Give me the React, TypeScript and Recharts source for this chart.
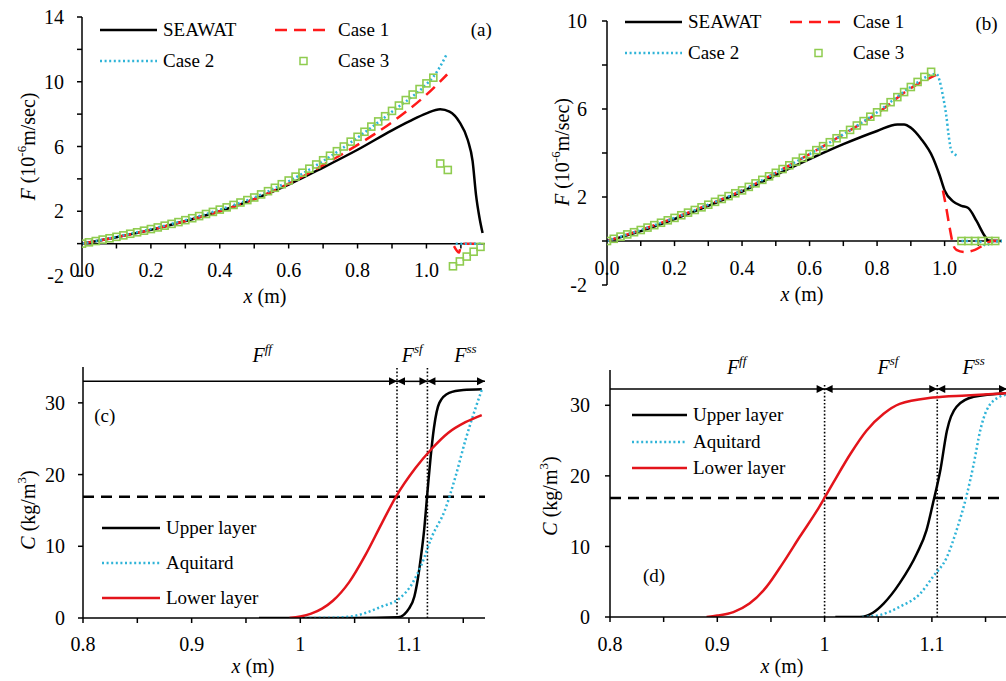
import React from 'react';
import {
  ComposedChart,
  Line,
  Scatter,
  XAxis,
  YAxis,
  ReferenceLine,
  ReferenceDot,
  Legend,
  Label,
} from 'recharts';

const SERIF = 'Liberation Serif, Tinos, DejaVu Serif, serif';
const BLACK = '#000000';
const RED = '#ff1a1a';
const CYAN = '#2fb4d8';
const GREEN = '#8fcc4f';
const LOWER_RED = '#e3141b';

// ---------- panel (a) ----------
const aSeawatX = [0, 0.1, 0.2, 0.3, 0.4, 0.5, 0.6, 0.7, 0.8, 0.9, 0.95, 1.0, 1.04, 1.067, 1.096, 1.12, 1.134, 1.144, 1.154, 1.163];
const aSeawatY = [0, 0.4, 0.85, 1.4, 2.0, 2.75, 3.65, 4.7, 5.8, 7.0, 7.55, 8.05, 8.3, 8.15, 7.5, 6.4, 5.1, 3.0, 1.6, 0.65];

const aCase1X = [0, 0.1, 0.2, 0.3, 0.4, 0.5, 0.6, 0.7, 0.8, 0.9, 1.0, 1.06, 1.07, 1.08, 1.095, 1.1, 1.11, 1.16];
const aCase1Y = [0, 0.4, 0.85, 1.4, 2.0, 2.75, 3.7, 4.85, 6.1, 7.5, 9.2, 10.45, null, -0.15, -0.55, -0.1, 0, 0];

const aCase2X = [0, 0.1, 0.2, 0.3, 0.4, 0.5, 0.6, 0.7, 0.8, 0.9, 1.0, 1.02, 1.04, 1.06, 1.07, 1.085, 1.16];
const aCase2Y = [0, 0.42, 0.9, 1.45, 2.1, 2.85, 3.85, 5.1, 6.55, 8.15, 9.85, 10.3, 10.95, 11.75, null, 0, 0];

const aCase3X = [
  0, 0.02, 0.04, 0.06, 0.08, 0.1, 0.12, 0.14, 0.16, 0.18, 0.2, 0.22, 0.24, 0.26, 0.28, 0.3, 0.32, 0.34,
  0.36, 0.38, 0.4, 0.42, 0.44, 0.46, 0.48, 0.5, 0.52, 0.54, 0.56, 0.58, 0.6, 0.62, 0.64, 0.66, 0.68,
  0.7, 0.72, 0.74, 0.76, 0.78, 0.8, 0.82, 0.84, 0.86, 0.88, 0.9, 0.92, 0.94, 0.96, 0.98, 1.0, 1.02,
  1.04, 1.062, 1.077, 1.097, 1.117, 1.137, 1.157,
];
const aCase3Y = [
  0, 0.08, 0.16, 0.25, 0.33, 0.42, 0.51, 0.61, 0.7, 0.8, 0.9, 1.0, 1.11, 1.22, 1.33, 1.45, 1.57, 1.7,
  1.83, 1.96, 2.1, 2.24, 2.39, 2.54, 2.69, 2.85, 3.04, 3.24, 3.45, 3.67, 3.9, 4.14, 4.38, 4.63, 4.89,
  5.15, 5.43, 5.71, 6.0, 6.3, 6.6, 6.91, 7.23, 7.55, 7.87, 8.2, 8.53, 8.87, 9.21, 9.55, 9.9, 10.25,
  4.95, 4.55, -1.4, -1.1, -0.8, -0.5, -0.2,
];

// ---------- panel (b) ----------
const bSeawatX = [0, 0.1, 0.2, 0.3, 0.4, 0.5, 0.6, 0.7, 0.8, 0.86, 0.88, 0.9, 0.93, 0.965, 0.985, 1.0, 1.025, 1.05, 1.07, 1.095, 1.118, 1.13, 1.17];
const bSeawatY = [0, 0.45, 1.0, 1.6, 2.25, 3.0, 3.72, 4.4, 5.0, 5.3, 5.3, 5.15, 4.65, 3.8, 3.0, 2.3, 1.8, 1.6, 1.5, 0.9, 0.25, 0.02, 0];

const bCase1X = [0, 0.1, 0.2, 0.3, 0.4, 0.5, 0.6, 0.7, 0.8, 0.9, 0.975, 0.985, 0.995, 1.005, 1.015, 1.025, 1.035, 1.06, 1.09, 1.12, 1.14, 1.17];
const bCase1Y = [0, 0.5, 1.05, 1.65, 2.3, 3.1, 3.95, 4.85, 5.8, 6.95, 7.55, null, 2.3, 1.5, 0.6, -0.15, -0.4, -0.5, -0.4, -0.15, 0, 0];

const bCase2X = [0, 0.1, 0.2, 0.3, 0.4, 0.5, 0.6, 0.7, 0.8, 0.9, 0.975, 0.985, 0.995, 1.005, 1.012, 1.02, 1.03, 1.04, 1.045, 1.05, 1.1, 1.123, 1.14, 1.17];
const bCase2Y = [0, 0.5, 1.05, 1.65, 2.3, 3.1, 3.95, 4.85, 5.85, 7.0, 7.6, 7.3, 6.6, 5.7, 4.8, 4.1, 3.95, 3.85, null, 0, 0, -0.2, -0.05, 0];

const bCase3X = [
  0, 0.02, 0.04, 0.06, 0.08, 0.1, 0.12, 0.14, 0.16, 0.18, 0.2, 0.22, 0.24, 0.26, 0.28, 0.3, 0.32, 0.34,
  0.36, 0.38, 0.4, 0.42, 0.44, 0.46, 0.48, 0.5, 0.52, 0.54, 0.56, 0.58, 0.6, 0.62, 0.64, 0.66, 0.68,
  0.7, 0.72, 0.74, 0.76, 0.78, 0.8, 0.82, 0.84, 0.86, 0.88, 0.9, 0.92, 0.94, 0.96,
  1.05, 1.07, 1.09, 1.11, 1.13, 1.15,
];
const bCase3Y = [
  0, 0.1, 0.2, 0.3, 0.4, 0.5, 0.61, 0.72, 0.83, 0.94, 1.05, 1.17, 1.29, 1.41, 1.53, 1.65, 1.78, 1.91,
  2.04, 2.17, 2.3, 2.46, 2.62, 2.78, 2.94, 3.1, 3.27, 3.44, 3.61, 3.78, 3.95, 4.13, 4.31, 4.49, 4.67,
  4.85, 5.05, 5.25, 5.45, 5.65, 5.85, 6.08, 6.31, 6.54, 6.77, 7.0, 7.23, 7.46, 7.69,
  0, 0, 0, 0, 0, 0,
];

// ---------- panel (c) ----------
const cUpperX = [0.962, 1.0, 1.05, 1.09, 1.1, 1.105, 1.108, 1.111, 1.114, 1.117, 1.12, 1.123, 1.128, 1.137, 1.15, 1.167];
const cUpperY = [0, 0, 0, 0.1, 1.3, 3.0, 5.3, 8.5, 12.3, 17.5, 22.5, 26.5, 30.0, 31.4, 31.8, 31.9];
const cAquiX = [1.0, 1.03, 1.05, 1.075, 1.091, 1.103, 1.112, 1.121, 1.133, 1.143, 1.152, 1.167];
const cAquiY = [0, 0.05, 0.3, 1.6, 2.7, 4.8, 7.6, 11.3, 15.0, 19.8, 24.8, 31.8];
const cLowerX = [0.99, 1.0, 1.01, 1.02, 1.03, 1.045, 1.06, 1.075, 1.088, 1.106, 1.121, 1.136, 1.152, 1.167];
const cLowerY = [0, 0.2, 0.6, 1.3, 2.4, 5.0, 8.8, 13.2, 16.9, 20.9, 23.6, 25.8, 27.3, 28.3];
const cHalf = 16.9;
const cFronts = [1.089, 1.117];

// ---------- panel (d) ----------
const dUpperX = [1.01, 1.033, 1.045, 1.055, 1.07, 1.086, 1.095, 1.101, 1.108, 1.114, 1.123, 1.139, 1.17];
const dUpperY = [0, 0, 0.6, 1.9, 4.8, 9.0, 12.3, 16.1, 20.9, 26.4, 29.8, 31.2, 31.7];
const dAquiX = [1.035, 1.052, 1.07, 1.089, 1.101, 1.114, 1.123, 1.132, 1.139, 1.145, 1.151, 1.163, 1.17];
const dAquiY = [0, 0.3, 1.45, 3.3, 5.7, 8.5, 12.3, 17.0, 21.7, 26.4, 29.3, 31.2, 31.5];
const dLowerX = [0.89, 0.9, 0.915, 0.93, 0.946, 0.961, 0.977, 0.993, 1.0, 1.008, 1.024, 1.039, 1.055, 1.07, 1.101, 1.132, 1.17];
const dLowerY = [0, 0.2, 0.7, 1.9, 4.3, 7.6, 11.4, 15.1, 16.9, 19.0, 23.1, 26.4, 28.8, 30.2, 31.1, 31.4, 31.7];
const dHalf = 16.85;
const dFronts = [1.0, 1.105];

// ---------- ticks ----------
const abXTicks = [0.1, 0.2, 0.3, 0.4, 0.5, 0.6, 0.7, 0.8, 0.9, 1.0, 1.1];
const abXLabels = [0, 0.2, 0.4, 0.6, 0.8, 1.0];
const aYTicks = [-2, 0, 2, 4, 6, 8, 10, 12, 14];
const aYLabels = [-2, 2, 6, 10, 14];
const bYTicks = [-2, 0, 2, 4, 6, 8, 10];
const bYLabels = [-2, 2, 6, 10];
const cdXTicks = [0.8, 0.85, 0.9, 0.95, 1, 1.05, 1.1, 1.15];
const cdXLabels = [0.8, 0.9, 1, 1.1];
const cdYTicks = [0, 10, 20, 30];

const legendOrder = ['SEAWAT', 'Case 1', 'Case 2', 'Case 3', 'Upper layer', 'Aquitard', 'Lower layer'];

type Pt = { x: number; y: number | null };
const pts = (xs: number[], ys: (number | null)[]): Pt[] => xs.map((x, i) => ({ x, y: ys[i] }));

type Look = { kind: 'line' | 'square'; color: string; dash?: string; width?: number };
const LOOK: Record<string, Look> = {
  SEAWAT: { kind: 'line', color: BLACK, width: 2.5 },
  'Case 1': { kind: 'line', color: RED, dash: '12 7', width: 2.5 },
  'Case 2': { kind: 'line', color: CYAN, dash: '2 2.6', width: 2.5 },
  'Case 3': { kind: 'square', color: GREEN },
  'Upper layer': { kind: 'line', color: BLACK, width: 2.5 },
  Aquitard: { kind: 'line', color: CYAN, dash: '2 2.6', width: 2.5 },
  'Lower layer': { kind: 'line', color: LOWER_RED, width: 2.5 },
};

const FS = 20;
const TICK = { fontSize: FS, fill: '#000', fontFamily: SERIF };
const AXIS = { stroke: '#000', strokeWidth: 1.5 };

function squareMark(props: any) {
  const { cx, cy } = props;
  if (cx == null || cy == null) return <g />;
  return <rect x={cx - 3.5} y={cy - 3.5} width={7} height={7} fill="none" stroke={GREEN} strokeWidth={1.6} />;
}

function zeroLineTick(shift: number) {
  return (props: any) => (
    <text x={props.x} y={props.y + shift} textAnchor="middle" fontSize={FS} fontFamily={SERIF} fill="#000">
      {Number(props.payload.value).toFixed(1)}
    </text>
  );
}

function xTitle(dx: number, base: number) {
  return (props: any) => {
    const vb = props.viewBox ?? { x: 0, y: 0, width: 0, height: 0 };
    return (
      <text x={vb.x + vb.width / 2 + dx} y={vb.y + base} textAnchor="middle" fontSize={FS} fontFamily={SERIF} fill="#000">
        <tspan fontStyle="italic">x</tspan> (m)
      </text>
    );
  };
}

function yTitle(dx: number, dy: number, kind: 'F' | 'C') {
  return (props: any) => {
    const vb = props.viewBox ?? { x: 0, y: 0, width: 0, height: 0 };
    const cx = vb.x + dx;
    const cy = vb.y + vb.height / 2 + dy;
    return (
      <text
        transform={`rotate(-90 ${cx} ${cy})`}
        x={cx}
        y={cy}
        textAnchor="middle"
        dominantBaseline="central"
        fontSize={FS}
        fontFamily={SERIF}
        fill="#000"
      >
        {kind === 'F' ? (
          <>
            <tspan fontStyle="italic">F</tspan> (10<tspan dy={-7} fontSize={13}>-6</tspan>
            <tspan dy={7}>m/sec)</tspan>
          </>
        ) : (
          <>
            <tspan fontStyle="italic">C</tspan> (kg/m<tspan dy={-7} fontSize={13}>3</tspan>
            <tspan dy={7}>)</tspan>
          </>
        )}
      </text>
    );
  };
}

function frontLabel(sup: string) {
  return (props: any) => {
    const vb = props.viewBox ?? { x: 0, y: 0, width: 0, height: 0 };
    const cx = vb.x + vb.width / 2;
    const cy = vb.y + vb.height / 2;
    return (
      <text x={cx} y={cy} textAnchor="middle" dominantBaseline="central" fontSize={FS} fontStyle="italic" fontFamily={SERIF} fill="#000">
        F<tspan dy={-7} fontSize={13}>{sup}</tspan>
      </text>
    );
  };
}

function arrowShape(startHead: boolean, endHead: boolean) {
  return (p: any) => {
    const { x1, y1, x2, y2 } = p;
    const L = 8;
    const W = 4;
    return (
      <g>
        <line x1={x1} y1={y1} x2={x2} y2={y2} stroke="#000" strokeWidth={1.5} />
        {startHead && <polygon points={`${x1},${y1} ${x1 + L},${y1 - W} ${x1 + L},${y1 + W}`} fill="#000" />}
        {endHead && <polygon points={`${x2},${y2} ${x2 - L},${y2 - W} ${x2 - L},${y2 + W}`} fill="#000" />}
      </g>
    );
  };
}

function legendBox(cols: string, rowH: number, sampleW: number) {
  return (props: any) => {
    const items = [...(props.payload ?? [])]
      .filter((e: any) => LOOK[e.value])
      .sort((a: any, b: any) => legendOrder.indexOf(a.value) - legendOrder.indexOf(b.value));
    return (
      <div
        style={{
          display: 'grid',
          gridTemplateColumns: cols,
          gridAutoRows: `${rowH}px`,
          fontFamily: SERIF,
          fontSize: 19,
          color: '#000',
        }}
      >
        {items.map((e: any) => {
          const look = LOOK[e.value];
          return (
            <div key={e.value} style={{ display: 'flex', alignItems: 'center', whiteSpace: 'nowrap' }}>
              <svg width={sampleW} height={12} style={{ marginRight: 6, flex: 'none' }}>
                {look.kind === 'square' ? (
                  <rect x={sampleW / 2 - 3.5} y={2.5} width={7} height={7} fill="none" stroke={look.color} strokeWidth={1.5} />
                ) : (
                  <line x1={0} y1={6} x2={sampleW} y2={6} stroke={look.color} strokeWidth={look.width} strokeDasharray={look.dash} />
                )}
              </svg>
              <span>{e.value}</span>
            </div>
          );
        })}
      </div>
    );
  };
}

function seriesLine(name: string, data: Pt[]) {
  const look = LOOK[name];
  return (
    <Line
      key={name}
      name={name}
      data={data}
      dataKey="y"
      type="monotone"
      stroke={look.color}
      strokeWidth={look.width}
      strokeDasharray={look.dash}
      dot={false}
      activeDot={false}
      legendType="line"
      isAnimationActive={false}
    />
  );
}

type FProps = {
  width: number;
  height: number;
  margin: { top: number; right: number; bottom: number; left: number };
  yAxisWidth: number;
  xAxisHeight: number;
  yDomain: [number, number];
  yTicks: number[];
  yLabels: number[];
  yTickMargin: number;
  labelShift: number;
  tickLen: number;
  xTitleDx: number;
  xTitleBase: number;
  yTitleDx: number;
  yTitleDy: number;
  seawat: Pt[];
  case1: Pt[];
  case2: Pt[];
  case3: Pt[];
  tag: string;
  tagAt: [number, number];
  legendAt: { left: number; top: number };
  legendCols: string;
};

function FPanel(p: FProps) {
  return (
    <ComposedChart width={p.width} height={p.height} margin={p.margin}>
      <XAxis
        type="number"
        dataKey="x"
        domain={[0, 1.17]}
        ticks={abXLabels}
        interval={0}
        allowDataOverflow
        axisLine={false}
        tickLine={false}
        tickSize={0}
        tickMargin={0}
        height={p.xAxisHeight}
        tick={zeroLineTick(p.labelShift)}
      >
        <Label content={xTitle(p.xTitleDx, p.xTitleBase)} />
      </XAxis>
      <YAxis
        type="number"
        dataKey="y"
        domain={p.yDomain}
        ticks={p.yTicks}
        interval={0}
        allowDataOverflow
        width={p.yAxisWidth}
        axisLine={AXIS}
        tickLine={AXIS}
        tickSize={5}
        tickMargin={p.yTickMargin}
        tick={TICK}
        tickFormatter={(v: number) => (p.yLabels.includes(v) ? String(v) : '')}
      >
        <Label content={yTitle(p.yTitleDx, p.yTitleDy, 'F')} />
      </YAxis>
      <ReferenceLine y={0} stroke="#000" strokeWidth={1.5} />
      {abXTicks.map((t) => (
        <ReferenceLine
          key={`t${t}`}
          segment={[
            { x: t, y: 0 },
            { x: t, y: -p.tickLen },
          ]}
          stroke="#000"
          strokeWidth={1.5}
        />
      ))}
      {seriesLine('SEAWAT', p.seawat)}
      {seriesLine('Case 1', p.case1)}
      {seriesLine('Case 2', p.case2)}
      <Scatter name="Case 3" data={p.case3} dataKey="y" shape={squareMark} legendType="square" isAnimationActive={false} />
      <ReferenceDot
        x={p.tagAt[0]}
        y={p.tagAt[1]}
        r={1}
        fill="none"
        stroke="none"
        ifOverflow="visible"
        label={{ value: p.tag, position: 'center', fontSize: 19, fill: '#000', fontFamily: SERIF }}
      />
      <Legend
        layout="vertical"
        align="center"
        verticalAlign="middle"
        wrapperStyle={{ left: p.legendAt.left, top: p.legendAt.top, width: 340 }}
        content={legendBox(p.legendCols, 31, 57)}
      />
    </ComposedChart>
  );
}

type CProps = {
  width: number;
  height: number;
  margin: { top: number; right: number; bottom: number; left: number };
  yAxisWidth: number;
  xAxisHeight: number;
  yTickMargin: number;
  xTickMargin: number;
  xTitleDx: number;
  xTitleBase: number;
  yTitleDx: number;
  yTitleDy: number;
  upper: Pt[];
  aquitard: Pt[];
  lower: Pt[];
  half: number;
  fronts: number[];
  frontTop: number;
  arrowY: number;
  frontLabelX: number[];
  frontLabelY: number;
  tag: string;
  tagAt: [number, number];
  legendAt: { left: number; top: number };
  legendRow: number;
  sampleW: number;
};

function CPanel(p: CProps) {
  const arrows = [
    { from: 0.8, to: p.fronts[0], start: false, end: true },
    { from: p.fronts[0], to: p.fronts[1], start: true, end: true },
    { from: p.fronts[1], to: 1.17, start: true, end: true },
  ];
  const sups = ['ff', 'sf', 'ss'];
  return (
    <ComposedChart width={p.width} height={p.height} margin={p.margin}>
      <XAxis
        type="number"
        dataKey="x"
        domain={[0.8, 1.17]}
        ticks={cdXTicks}
        interval={0}
        allowDataOverflow
        height={p.xAxisHeight}
        axisLine={AXIS}
        tickLine={AXIS}
        tickSize={5}
        tickMargin={p.xTickMargin}
        tick={TICK}
        tickFormatter={(v: number) => (cdXLabels.includes(v) ? String(v) : '')}
      >
        <Label content={xTitle(p.xTitleDx, p.xTitleBase)} />
      </XAxis>
      <YAxis
        type="number"
        dataKey="y"
        domain={[0, 35]}
        ticks={cdYTicks}
        interval={0}
        allowDataOverflow
        width={p.yAxisWidth}
        axisLine={AXIS}
        tickLine={AXIS}
        tickSize={5}
        tickMargin={p.yTickMargin}
        tick={TICK}
      >
        <Label content={yTitle(p.yTitleDx, p.yTitleDy, 'C')} />
      </YAxis>
      <ReferenceLine y={p.half} stroke="#000" strokeWidth={2.5} strokeDasharray="11 7" />
      {p.fronts.map((f) => (
        <ReferenceLine
          key={`f${f}`}
          segment={[
            { x: f, y: 0 },
            { x: f, y: p.frontTop },
          ]}
          stroke="#000"
          strokeWidth={1.6}
          strokeDasharray="1.6 2"
        />
      ))}
      {arrows.map((a, i) => (
        <ReferenceLine
          key={`a${i}`}
          segment={[
            { x: a.from, y: p.arrowY },
            { x: a.to, y: p.arrowY },
          ]}
          shape={arrowShape(a.start, a.end)}
        />
      ))}
      {seriesLine('Upper layer', p.upper)}
      {seriesLine('Aquitard', p.aquitard)}
      {seriesLine('Lower layer', p.lower)}
      {p.frontLabelX.map((lx, i) => (
        <ReferenceDot
          key={`l${i}`}
          x={lx}
          y={p.frontLabelY}
          r={1}
          fill="none"
          stroke="none"
          ifOverflow="visible"
          label={frontLabel(sups[i])}
        />
      ))}
      <ReferenceDot
        x={p.tagAt[0]}
        y={p.tagAt[1]}
        r={1}
        fill="none"
        stroke="none"
        ifOverflow="visible"
        label={{ value: p.tag, position: 'center', fontSize: 19, fill: '#000', fontFamily: SERIF }}
      />
      <Legend
        layout="vertical"
        align="center"
        verticalAlign="middle"
        wrapperStyle={{ left: p.legendAt.left, top: p.legendAt.top, width: 240 }}
        content={legendBox('240px', p.legendRow, p.sampleW)}
      />
    </ComposedChart>
  );
}

export default function App() {
  return (
    <div
      style={{
        position: 'absolute',
        left: 0,
        top: 0,
        width: 1006,
        height: 681,
        overflow: 'hidden',
        background: '#fff',
        fontFamily: SERIF,
      }}
    >
      <div style={{ position: 'absolute', left: 0, top: 0 }}>
        <FPanel
          width={500}
          height={320}
          margin={{ top: 17, right: 15, bottom: 0, left: 0 }}
          yAxisWidth={82}
          xAxisHeight={44}
          yDomain={[-2, 14]}
          yTicks={aYTicks}
          yLabels={aYLabels}
          yTickMargin={13}
          labelShift={1}
          tickLen={0.3}
          xTitleDx={-18.5}
          xTitleBase={27}
          yTitleDx={28}
          yTitleDy={0}
          seawat={pts(aSeawatX, aSeawatY)}
          case1={pts(aCase1X, aCase1Y)}
          case2={pts(aCase2X, aCase2Y)}
          case3={pts(aCase3X, aCase3Y)}
          tag="(a)"
          tagAt={[1.159, 13.25]}
          legendAt={{ left: 100, top: 14 }}
          legendCols="175px 150px"
        />
      </div>
      <div style={{ position: 'absolute', left: 500, top: 0 }}>
        <FPanel
          width={506}
          height={320}
          margin={{ top: 21, right: 4, bottom: 0, left: 0 }}
          yAxisWidth={107}
          xAxisHeight={35}
          yDomain={[-2, 10]}
          yTicks={bYTicks}
          yLabels={bYLabels}
          yTickMargin={15}
          labelShift={-10}
          tickLen={0.23}
          xTitleDx={-2.5}
          xTitleBase={16}
          yTitleDx={62}
          yTitleDy={-1}
          seawat={pts(bSeawatX, bSeawatY)}
          case1={pts(bCase1X, bCase1Y)}
          case2={pts(bCase2X, bCase2Y)}
          case3={pts(bCase3X, bCase3Y)}
          tag="(b)"
          tagAt={[1.124, 9.9]}
          legendAt={{ left: 125, top: 6.5 }}
          legendCols="165px 150px"
        />
      </div>
      <div style={{ position: 'absolute', left: 0, top: 330 }}>
        <CPanel
          width={500}
          height={351}
          margin={{ top: 37, right: 15, bottom: 0, left: 0 }}
          yAxisWidth={83}
          xAxisHeight={63}
          yTickMargin={13}
          xTickMargin={14}
          xTitleDx={-31}
          xTitleBase={55}
          yTitleDx={28}
          yTitleDy={17.5}
          upper={pts(cUpperX, cUpperY)}
          aquitard={pts(cAquiX, cAquiY)}
          lower={pts(cLowerX, cLowerY)}
          half={cHalf}
          fronts={cFronts}
          frontTop={35}
          arrowY={33}
          frontLabelX={[0.965, 1.103, 1.152]}
          frontLabelY={36.7}
          tag="(c)"
          tagAt={[0.82, 28.3]}
          legendAt={{ left: 102, top: 180.5 }}
          legendRow={35}
          sampleW={58}
        />
      </div>
      <div style={{ position: 'absolute', left: 500, top: 330 }}>
        <CPanel
          width={508}
          height={351}
          margin={{ top: 40, right: 1, bottom: 0, left: 0 }}
          yAxisWidth={110}
          xAxisHeight={64}
          yTickMargin={15}
          xTickMargin={15}
          xTitleDx={-26.5}
          xTitleBase={56}
          yTitleDx={50}
          yTitleDy={2.5}
          upper={pts(dUpperX, dUpperY)}
          aquitard={pts(dAquiX, dAquiY)}
          lower={pts(dLowerX, dLowerY)}
          half={dHalf}
          fronts={dFronts}
          frontTop={32.9}
          arrowY={32.3}
          frontLabelX={[0.918, 1.059, 1.139]}
          frontLabelY={35.4}
          tag="(d)"
          tagAt={[0.841, 5.9]}
          legendAt={{ left: 132, top: 71.75 }}
          legendRow={26.5}
          sampleW={55}
        />
      </div>
    </div>
  );
}
